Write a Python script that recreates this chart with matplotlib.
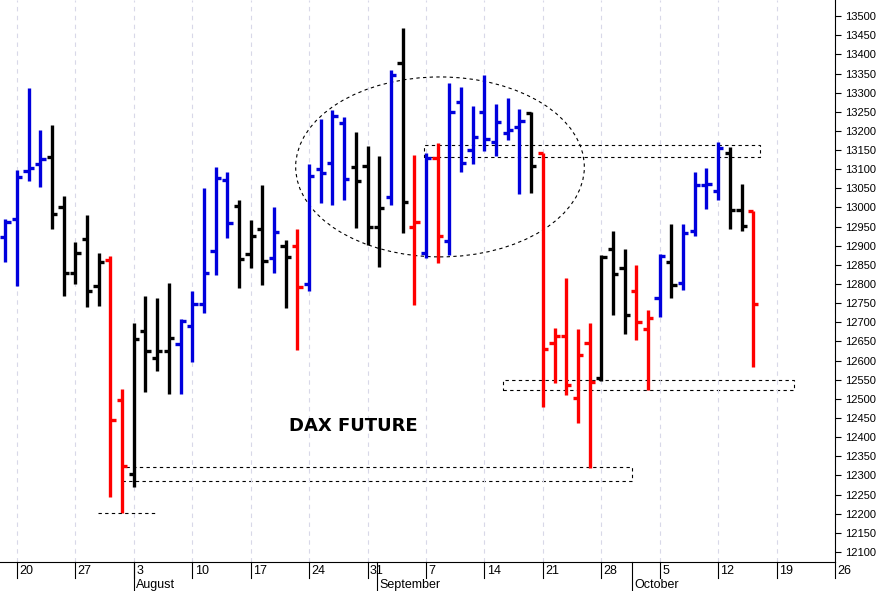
import matplotlib
matplotlib.use("Agg")
import matplotlib.pyplot as plt
from matplotlib.patches import Ellipse, Rectangle

opens  = [12923,12970,13095,13114,13132,13001,12829,12918,12795,12863,12497,12304,12678,12607,12625,12644,12691,12748,
          12886,13072,13004,12879,12944,12868,12899,12899,12800,13100,13116,13221,13106,13108,12949,13027,13377,
          12949,12881,13129,12913,13275,13150,13249,13171,13195,13210,13247,13142,12646,12664,12503,12646,12555,
          12892,12842,12782,12683,12764,12858,12803,12939,13059,13043,13142,12993,12991]
highs  = [12970,13098,13312,13202,13215,13030,12910,12980,12881,12873,12526,12698,12769,12764,12803,12709,12782,13051,
          13106,13093,13020,12967,13059,13001,12915,12944,13114,13231,13255,13236,13197,13161,13134,13359,13469,
          13137,13142,13168,13325,13315,13265,13346,13270,13286,13257,13249,13142,12685,12816,12683,12698,12876,
          12939,12892,12850,12732,12879,12957,12957,13093,13103,13171,13158,13061,12991]
lows   = [12858,12795,13069,13053,12944,12769,12800,12740,12743,12244,12202,12270,12518,12573,12513,12513,12597,12725,
          12824,12920,12790,12842,12798,12829,12738,12628,12782,13012,13007,13020,12946,12902,12845,13007,12933,
          12745,12868,12855,12876,13093,13114,13147,13134,13176,13035,13038,12479,12542,12510,12437,12320,12547,
          12719,12670,12654,12523,12714,12764,12785,12926,12996,13020,12944,12939,12584]
closes = [12962,13080,13103,13127,12983,12829,12881,12782,12858,12445,12325,12657,12625,12625,12659,12704,12748,12829,
          13077,12960,12866,12926,12860,12936,12871,12792,13082,13090,13239,13074,13069,12949,12999,13346,13014,
          12962,13129,12926,13249,13116,13184,13179,13223,13203,13226,13108,12631,12664,12537,12615,12544,12871,
          12826,12719,12701,12711,12873,12798,12933,13059,13061,13155,12993,12952,12748]
colors = (["b"]*4 + ["k"]*5 + ["r"]*2 + ["k"]*4 + ["b"]*3 +
          ["b"]*2 + ["k"]*3 + ["b"] + ["k"] + ["r"] + ["b"]*4 + ["k"]*3 + ["b"] + ["k"] +
          ["r","b","r"] + ["b"]*7 + ["k"] + ["r"]*5 + ["k"] +
          ["k"]*2 + ["r"]*2 + ["b","k","b","b","b","b","k","k","r"])
cmap = {"b": "#0000dd", "k": "#000000", "r": "#ff0000"}

tick_pos = list(range(1, 72, 5))
tick_labels = ["20","27","3","10","17","24","31","7","14","21","28","5","12","19","26"]
months = [("August", 11), ("September", 31.8), ("October", 53.6)]

plt.rcParams['font.family'] = ['Liberation Sans', 'DejaVu Sans']
fig = plt.figure(figsize=(8.87, 5.91), dpi=100)
ax = fig.add_axes([0, 29/591, 835/887, 562/591])
for i in range(len(opens)):
    c = cmap[colors[i]]
    ax.vlines(i, lows[i], highs[i], color=c, lw=2.4)
    ax.hlines(opens[i], i - 0.45, i, color=c, lw=2.4)
    ax.hlines(closes[i], i, i + 0.45, color=c, lw=2.4)

ax.set_xlim(-0.45, 70.8)
ax.set_ylim(12074, 13542)
ax.set_xticks(tick_pos)
ax.set_xticklabels([])
ax.tick_params(axis="x", length=0)
H = 562.0
tr = ax.get_xaxis_transform()
for p, lab in zip(tick_pos, tick_labels):
    ax.plot([p, p], [0, -16/H], transform=tr, color="k", lw=0.8, clip_on=False)
    ax.text(p + 0.2, -9/H, lab, transform=tr, fontsize=9, ha="left", va="center")
for name, pos in months:
    ax.plot([pos, pos], [0, -30/H], transform=tr, color="k", lw=0.8, clip_on=False)
    ax.text(pos + 0.2, -23/H, name, transform=tr, fontsize=9, ha="left", va="center")

ax.set_yticks(range(12100, 13501, 50))
ax.yaxis.tick_right()
ax.tick_params(axis="y", labelsize=8, length=4)
for s in ["top", "left"]:
    ax.spines[s].set_visible(False)
ax.grid(axis="x", color="#d8d8e8", ls=(0, (4, 4)), lw=0.8)

ax.add_patch(Ellipse((37.2, 13106), 24.7, 470, fill=False, ls=(0, (3, 3)), lw=0.8))
for (x0, x1, y0, y1) in [(35.8, 64.6, 13132, 13163), (42.6, 67.5, 12524, 12550), (10.0, 53.6, 12286, 12322)]:
    ax.add_patch(Rectangle((x0, y0), x1 - x0, y1 - y0, fill=False, ls=(0, (3, 3)), lw=0.8))
ax.plot([7.9, 12.8], [12202, 12202], color="k", ls=(0, (3, 3)), lw=0.8)
ax.text(29.8, 12430, "DAX FUTURE", fontsize=13, fontweight="bold", ha="center", va="center",
        family=["DejaVu Sans"])

fig.savefig("out.png", dpi=100)
